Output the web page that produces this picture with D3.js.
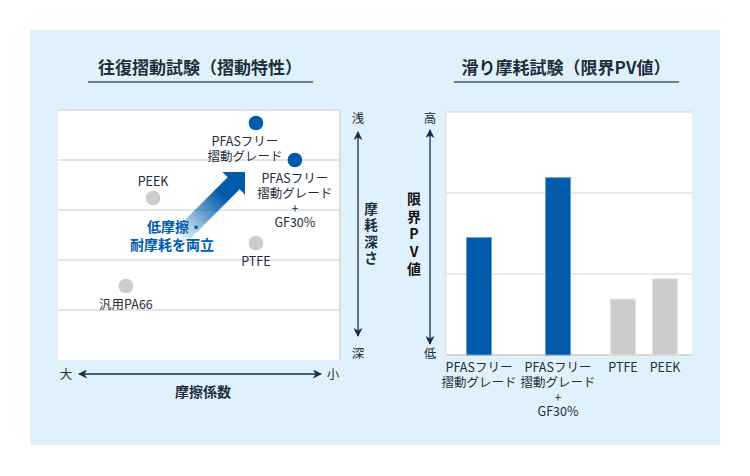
<!DOCTYPE html>
<html><head><meta charset="utf-8">
<script src="https://cdn.jsdelivr.net/npm/d3@7"></script>
<style>
html,body{margin:0;padding:0;background:#fff;}
svg{display:block;font-family:"Noto Sans CJK JP","Noto Sans",sans-serif;}
</style></head><body>
<svg id="c" width="750" height="476"></svg>
<script>
// ---- Data: 往復摺動試験 (scatter) ----
const scatterNames = ["PFASフリー\n摺動グレード", "PFASフリー\n摺動グレード\n+\nGF30%", "PEEK", "PTFE", "汎用PA66"];
const frictionLow = [7.02, 8.4, 3.37, 7.02, 2.41];   // 摩擦係数 (大→小)
const wearShallow = [4.74, 4.0, 3.24, 2.34, 1.48];    // 摩耗深さ (深→浅)
const scatterHighlight = [true, true, false, false, false];
const scatterLabelPos = ["below", "below", "above", "below", "below"];

// ---- Data: 滑り摩耗試験 (bars) ----
const barCategories = ["PFASフリー\n摺動グレード", "PFASフリー\n摺動グレード\n+\nGF30%", "PTFE", "PEEK"];
const pvValues = [1.45, 2.19, 0.69, 0.94];
const barHighlight = [true, true, false, false];
const yTicks = [1, 2, 3];

const BLUE = "#005bab", GRAY = "#cccccc", TXT = "#1f2d3d", NAVY = "#15304d";
const svg = d3.select("#c");

svg.append("rect").attr("x",30).attr("y",30).attr("width",690).attr("height",415).attr("fill","#e1f1fc");

const defs = svg.append("defs");
defs.append("marker").attr("id","ah").attr("viewBox","0 0 10 10").attr("refX",9).attr("refY",5)
  .attr("markerWidth",9).attr("markerHeight",9).attr("orient","auto-start-reverse").attr("markerUnits","userSpaceOnUse")
  .append("path").attr("d","M0,0 L10,5 L0,10 L3,5 Z").attr("fill",NAVY);

// ===== Left chart =====
const L = {x0:58, x1:340, y0:110, y1:360};
const xS = d3.scaleLinear().domain([0,10]).range([L.x0, L.x1]);
const yS = d3.scaleLinear().domain([0,5]).range([L.y1, L.y0]);

svg.append("text").attr("x",200).attr("y",74).attr("text-anchor","middle").attr("font-size",17).attr("font-weight",700).attr("fill",TXT).text("往復摺動試験（摺動特性）");
svg.append("line").attr("x1",88).attr("x2",313).attr("y1",82).attr("y2",82).attr("stroke","#6c7f95").attr("stroke-width",2);

svg.append("rect").attr("x",L.x0).attr("y",L.y0).attr("width",L.x1-L.x0).attr("height",L.y1-L.y0).attr("fill","#fff");
const gl = svg.append("g");
gl.selectAll("line").data([1,2,3,4,5]).join("line")
  .attr("x1",L.x0).attr("x2",L.x1).attr("y1",d=>yS(d)).attr("y2",d=>yS(d)).attr("stroke","#d9dcdf").attr("stroke-width",1.5);
svg.append("line").attr("x1",L.x1).attr("x2",L.x1).attr("y1",L.y0).attr("y2",L.y1).attr("stroke","#d0d4d8").attr("stroke-width",1.5);

// gradient arrow
const lg = defs.append("linearGradient").attr("id","ag").attr("gradientUnits","userSpaceOnUse")
  .attr("x1",178).attr("y1",242).attr("x2",234).attr("y2",184);
lg.append("stop").attr("offset",0).attr("stop-color",BLUE).attr("stop-opacity",0);
lg.append("stop").attr("offset",0.8).attr("stop-color",BLUE).attr("stop-opacity",1);
{
  const tip=[245,172], ang=-Math.PI/4, len=98, hw=8.5, hh=16, hl=16;
  const d=[Math.cos(ang),Math.sin(ang)], n=[-d[1],d[0]];
  const base=[tip[0]-hl*d[0], tip[1]-hl*d[1]];
  const start=[tip[0]-len*d[0], tip[1]-len*d[1]];
  const P=(p,a)=>[p[0]+a*n[0], p[1]+a*n[1]];
  const pts=[P(start,hw),P(base,hw),P(base,hh),tip,P(base,-hh),P(base,-hw),P(start,-hw)];
  svg.append("path").attr("d","M"+pts.map(p=>p.join(",")).join("L")+"Z").attr("fill","url(#ag)");
}
svg.append("text").attr("x",175).attr("y",232).attr("text-anchor","middle").attr("font-size",14).attr("font-weight",700).attr("fill",BLUE).text("低摩擦・");
svg.append("text").attr("x",172).attr("y",250).attr("text-anchor","middle").attr("font-size",14).attr("font-weight",700).attr("fill",BLUE).text("耐摩耗を両立");

// points
scatterNames.forEach((name,i)=>{
  const cx=xS(frictionLow[i]), cy=yS(wearShallow[i]);
  svg.append("circle").attr("cx",cx).attr("cy",cy).attr("r",7.3).attr("fill",scatterHighlight[i]?BLUE:GRAY);
  const lines=name.split("\n");
  const t=svg.append("text").attr("text-anchor","middle").attr("font-size",12.5).attr("fill",TXT);
  let y0 = scatterLabelPos[i]==="above" ? cy-12 : cy+23, lx=cx;
  if(i===0){ lx=cx-11; y0=cy+23; }
  lines.forEach((ln,j)=>t.append("tspan").attr("x",lx).attr("y",y0+j*14.8).text(ln));
});

// axes arrows (left)
svg.append("line").attr("x1",358).attr("x2",358).attr("y1",336).attr("y2",132).attr("stroke",NAVY).attr("stroke-width",1.3).attr("marker-end","url(#ah)").attr("marker-start","url(#ah)");
svg.append("text").attr("x",358).attr("y",123).attr("text-anchor","middle").attr("font-size",12.5).attr("fill",TXT).text("浅");
svg.append("text").attr("x",358).attr("y",358).attr("text-anchor","middle").attr("font-size",12.5).attr("fill",TXT).text("深");
["摩","耗","深","さ"].forEach((c,i)=>svg.append("text").attr("x",371).attr("y",214+i*16.3).attr("text-anchor","middle")
  .attr("font-size",13.5).attr("font-weight",700).attr("fill",TXT).text(c));

svg.append("line").attr("x1",79).attr("x2",321).attr("y1",374).attr("y2",374).attr("stroke",NAVY).attr("stroke-width",1.3).attr("marker-end","url(#ah)").attr("marker-start","url(#ah)");
svg.append("text").attr("x",66).attr("y",379).attr("text-anchor","middle").attr("font-size",12.5).attr("fill",TXT).text("大");
svg.append("text").attr("x",333).attr("y",379).attr("text-anchor","middle").attr("font-size",12.5).attr("fill",TXT).text("小");
svg.append("text").attr("x",203).attr("y",397).attr("text-anchor","middle").attr("font-size",14).attr("font-weight",700).attr("fill",TXT).text("摩擦係数");

// ===== Right chart =====
const R = {x0:446, x1:692, y0:112, y1:355};
const xB = d3.scaleOrdinal().domain(barCategories).range([479, 558, 623, 665]);
const yB = d3.scaleLinear().domain([0,3]).range([R.y1, R.y0]);
const bw = 25;

svg.append("text").attr("x",566).attr("y",74).attr("text-anchor","middle").attr("font-size",17).attr("font-weight",700).attr("fill",TXT).text("滑り摩耗試験（限界PV値）");
svg.append("line").attr("x1",454).attr("x2",679).attr("y1",82).attr("y2",82).attr("stroke","#6c7f95").attr("stroke-width",2);

svg.append("rect").attr("x",R.x0).attr("y",R.y0).attr("width",R.x1-R.x0).attr("height",R.y1-R.y0).attr("fill","#fff");
svg.append("g").selectAll("line").data(yTicks).join("line")
  .attr("x1",R.x0).attr("x2",R.x1).attr("y1",d=>yB(d)).attr("y2",d=>yB(d)).attr("stroke","#d0d4d8").attr("stroke-width",1.2);
svg.append("line").attr("x1",R.x0).attr("x2",R.x0).attr("y1",R.y0).attr("y2",R.y1).attr("stroke","#d8dbde").attr("stroke-width",1);
svg.append("line").attr("x1",R.x0).attr("x2",R.x1).attr("y1",R.y1).attr("y2",R.y1).attr("stroke","#c8ccd0").attr("stroke-width",1.5);

svg.append("g").selectAll("rect").data(pvValues).join("rect")
  .attr("x",(d,i)=>xB(barCategories[i])-bw/2).attr("width",bw)
  .attr("y",d=>yB(d)).attr("height",d=>R.y1-yB(d))
  .attr("fill",(d,i)=>barHighlight[i]?BLUE:GRAY)
  .attr("stroke",(d,i)=>barHighlight[i]?"#6f9fd0":"#e4e4e4").attr("stroke-width",1);

barCategories.forEach(c=>{
  const t=svg.append("text").attr("text-anchor","middle").attr("font-size",12.5).attr("fill",TXT);
  c.split("\n").forEach((ln,j)=>t.append("tspan").attr("x",xB(c)).attr("y",372+j*14.8).text(ln));
});

svg.append("line").attr("x1",430).attr("x2",430).attr("y1",344).attr("y2",130).attr("stroke",NAVY).attr("stroke-width",1.3).attr("marker-end","url(#ah)").attr("marker-start","url(#ah)");
svg.append("text").attr("x",430).attr("y",123).attr("text-anchor","middle").attr("font-size",12.5).attr("fill",TXT).text("高");
svg.append("text").attr("x",430).attr("y",358).attr("text-anchor","middle").attr("font-size",12.5).attr("fill",TXT).text("低");
["限","界","P","V","値"].forEach((c,i)=>svg.append("text").attr("x",414).attr("y",204+i*17.5).attr("text-anchor","middle")
  .attr("font-size",14).attr("font-weight",700).attr("fill","#111").text(c));
</script></body></html>
